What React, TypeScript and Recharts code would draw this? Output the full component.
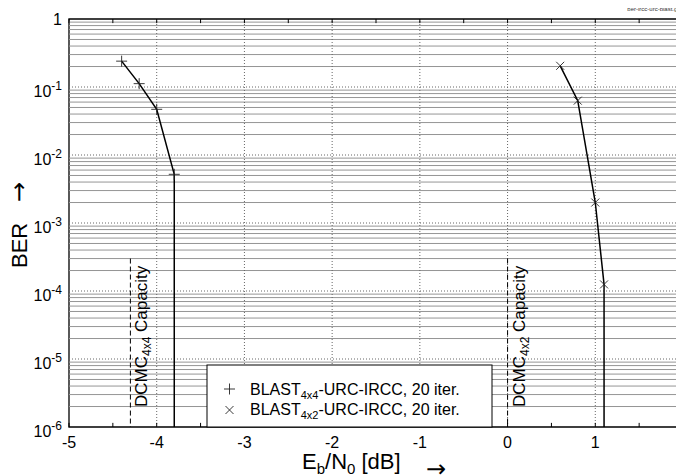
import React from 'react';
import { LineChart, Line, XAxis, YAxis, ReferenceLine, ReferenceArea, ReferenceDot } from 'recharts';

const xTicks = [-5, -4, -3, -2, -1, 0, 1, 2];
const xGridValues = [-4, -3, -2, -1, 0, 1];
const xMinorTicks = [-4.5, -3.5, -2.5, -1.5, -0.5, 0.5, 1.5];
const yDecades = [1e-6, 1e-5, 1e-4, 1e-3, 1e-2, 1e-1, 1];
const yGridDecades = [1e-5, 1e-4, 1e-3, 1e-2, 1e-1];
const yMinorMultipliers = [2, 3, 4, 5, 6, 7, 8, 9];
const yMinorGrid = yDecades.slice(0, -1).flatMap((d) => yMinorMultipliers.map((m) => m * d));

const blast4x4 = [
  { x: -4.4, ber: 0.24 },
  { x: -4.2, ber: 0.112 },
  { x: -4.0, ber: 0.047 },
  { x: -3.8, ber: 0.0052 },
  { x: -3.8, ber: 1e-6 },
];
const blast4x2 = [
  { x: 0.6, ber: 0.205 },
  { x: 0.8, ber: 0.063 },
  { x: 1.0, ber: 0.002 },
  { x: 1.1, ber: 1.25e-4 },
  { x: 1.1, ber: 1e-6 },
];
const capacity4x4 = { x: -4.3, top: 3e-4, bottom: 1e-6, sub: '4x4' };
const capacity4x2 = { x: 0.0, top: 3e-4, bottom: 1e-6, sub: '4x2' };

const FONT = '"Liberation Sans", Arial, Helvetica, sans-serif';
const ARROW_FONT = '"DejaVu Sans", sans-serif';

const XTick = (props: any) => {
  const { x, payload } = props;
  return (
    <text x={x} y={448} textAnchor="middle" fontSize={16} fontFamily={FONT} fill="#000">
      {String(payload.value)}
    </text>
  );
};

const YTick = (props: any) => {
  const { y, payload } = props;
  const exp = Math.round(Math.log10(payload.value));
  if (exp === 0) {
    return (
      <text x={62} y={y + 6} textAnchor="end" fontSize={16} fontFamily={FONT} fill="#000">1</text>
    );
  }
  return (
    <text x={62} y={y + 10} textAnchor="end" fontSize={16} fontFamily={FONT} fill="#000">
      <tspan>10</tspan>
      <tspan dy={-7} fontSize={12}>{String(exp)}</tspan>
    </text>
  );
};

const makeDot = (kind: 'plus' | 'cross', n: number) => (props: any) => {
  const { cx, cy, index } = props;
  if (index >= n - 1 || cx == null || cy == null) return <g key={`d${index}`} />;
  const s = kind === 'plus' ? 5.5 : 4;
  if (kind === 'plus') {
    return (
      <g key={`d${index}`} stroke="#222" strokeWidth={0.9}>
        <line x1={cx - s} y1={cy} x2={cx + s} y2={cy} />
        <line x1={cx} y1={cy - s} x2={cx} y2={cy + s} />
      </g>
    );
  }
  return (
    <g key={`d${index}`} stroke="#222" strokeWidth={0.9}>
      <line x1={cx - s} y1={cy - s} x2={cx + s} y2={cy + s} />
      <line x1={cx - s} y1={cy + s} x2={cx + s} y2={cy - s} />
    </g>
  );
};

const capacityLabel = (sub: string) => (props: any) => {
  const { cx, cy } = props;
  const px = cx + 17;
  const py = cy - 20;
  return (
    <text
      x={px}
      y={py}
      transform={`rotate(-90, ${px}, ${py})`}
      fontSize={17}
      fontFamily={FONT}
      fill="#000"
    >
      <tspan>DCMC</tspan>
      <tspan fontSize={12} dy={4}>{sub}</tspan>
      <tspan dy={-4}> Capacity</tspan>
    </text>
  );
};

export default function App() {
  return (
    <div style={{ position: 'relative', width: 684, height: 475, marginTop: -8, marginLeft: -8, background: '#fff' }}>
      <LineChart width={684} height={475} margin={{ top: 19, right: 1, left: 0, bottom: 0 }}>
        <XAxis
          type="number"
          dataKey="x"
          domain={[-5, 2]}
          ticks={xTicks}
          interval={0}
          axisLine={false}
          tickLine={false}
          height={48}
          tick={XTick}
          allowDataOverflow
        />
        <YAxis
          type="number"
          dataKey="ber"
          scale="log"
          domain={[1e-6, 1]}
          ticks={yDecades}
          interval={0}
          axisLine={false}
          tickLine={false}
          width={69}
          tick={YTick}
          allowDataOverflow
        />
        {yMinorGrid.map((v) => (
          <ReferenceLine key={`ym${v}`} y={v} stroke="#959595" strokeWidth={1} />
        ))}
        {yGridDecades.map((v) => (
          <ReferenceLine key={`yd${v}`} y={v} stroke="#666" strokeWidth={1} strokeDasharray="1 2" />
        ))}
        {xGridValues.map((v) => (
          <ReferenceLine key={`xg${v}`} x={v} stroke="#666" strokeWidth={1} strokeDasharray="1 2" />
        ))}
        {xMinorTicks.concat(xTicks).map((t) => (
          <ReferenceLine
            key={`tb${t}`}
            segment={[{ x: t, y: 1e-6 }, { x: t, y: 1.15e-6 }]}
            stroke="#000"
            strokeWidth={1}
          />
        ))}
        {xMinorTicks.concat(xTicks).map((t) => (
          <ReferenceLine
            key={`tt${t}`}
            segment={[{ x: t, y: 1 }, { x: t, y: 0.87 }]}
            stroke="#000"
            strokeWidth={1}
          />
        ))}
        {yDecades.map((d) => (
          <ReferenceLine
            key={`tr${d}`}
            segment={[{ x: 2, y: d }, { x: 1.954, y: d }]}
            stroke="#000"
            strokeWidth={1}
          />
        ))}
        {[capacity4x4, capacity4x2].map((c) => (
          <ReferenceLine
            key={`cap${c.sub}`}
            segment={[{ x: c.x, y: c.top }, { x: c.x, y: c.bottom }]}
            stroke="#000"
            strokeWidth={1}
            strokeDasharray="5 3"
          />
        ))}
        {[capacity4x4, capacity4x2].map((c) => (
          <ReferenceDot key={`capl${c.sub}`} x={c.x} y={c.bottom} r={0} shape={capacityLabel(c.sub)} />
        ))}
        <ReferenceArea x1={-5} x2={2} y1={1e-6} y2={1} fill="none" stroke="#000" strokeWidth={1.3} />
        <Line
          data={blast4x4}
          dataKey="ber"
          type="linear"
          stroke="#000"
          strokeWidth={1.5}
          dot={makeDot('plus', blast4x4.length)}
          isAnimationActive={false}
        />
        <Line
          data={blast4x2}
          dataKey="ber"
          type="linear"
          stroke="#000"
          strokeWidth={1.5}
          dot={makeDot('cross', blast4x2.length)}
          isAnimationActive={false}
        />
      </LineChart>
      <svg
        width={684}
        height={475}
        style={{ position: 'absolute', left: 0, top: 0, pointerEvents: 'none', overflow: 'visible' }}
      >
        <text x={682} y={11} textAnchor="end" fontSize={6} fontFamily={FONT} fill="#333">ber-ircc-urc-blast.gle</text>
        <rect x={207} y={365} width={285} height={62} fill="#fff" stroke="#000" strokeWidth={1} />
        <g stroke="#222" strokeWidth={0.9}>
          <line x1={224} y1={389} x2={235} y2={389} />
          <line x1={229.5} y1={383.5} x2={229.5} y2={394.5} />
          <line x1={225.5} y1={406} x2={233.5} y2={414} />
          <line x1={225.5} y1={414} x2={233.5} y2={406} />
        </g>
        <text x={250} y={395} fontSize={16} fontFamily={FONT} fill="#000">
          <tspan>BLAST</tspan>
          <tspan fontSize={11} dy={4}>4x4</tspan>
          <tspan dy={-4}>-URC-IRCC, 20 iter.</tspan>
        </text>
        <text x={250} y={415} fontSize={16} fontFamily={FONT} fill="#000">
          <tspan>BLAST</tspan>
          <tspan fontSize={11} dy={4}>4x2</tspan>
          <tspan dy={-4}>-URC-IRCC, 20 iter.</tspan>
        </text>
        <text x={302} y={469} fontSize={22} fontFamily={FONT} fill="#000">
          <tspan>E</tspan>
          <tspan fontSize={15} dy={5}>b</tspan>
          <tspan dy={-5}>/N</tspan>
          <tspan fontSize={15} dy={5}>0</tspan>
          <tspan dy={-5}> [dB]</tspan>
        </text>
        <text x={426} y={477} fontSize={24} fontFamily={ARROW_FONT} fill="#000">→</text>
        <text x={-268} y={27} transform="rotate(-90)" fontSize={22} fontFamily={FONT} fill="#000">BER</text>
        <text x={-202} y={27} transform="rotate(-90)" fontSize={24} fontFamily={ARROW_FONT} fill="#000">→</text>
      </svg>
    </div>
  );
}
